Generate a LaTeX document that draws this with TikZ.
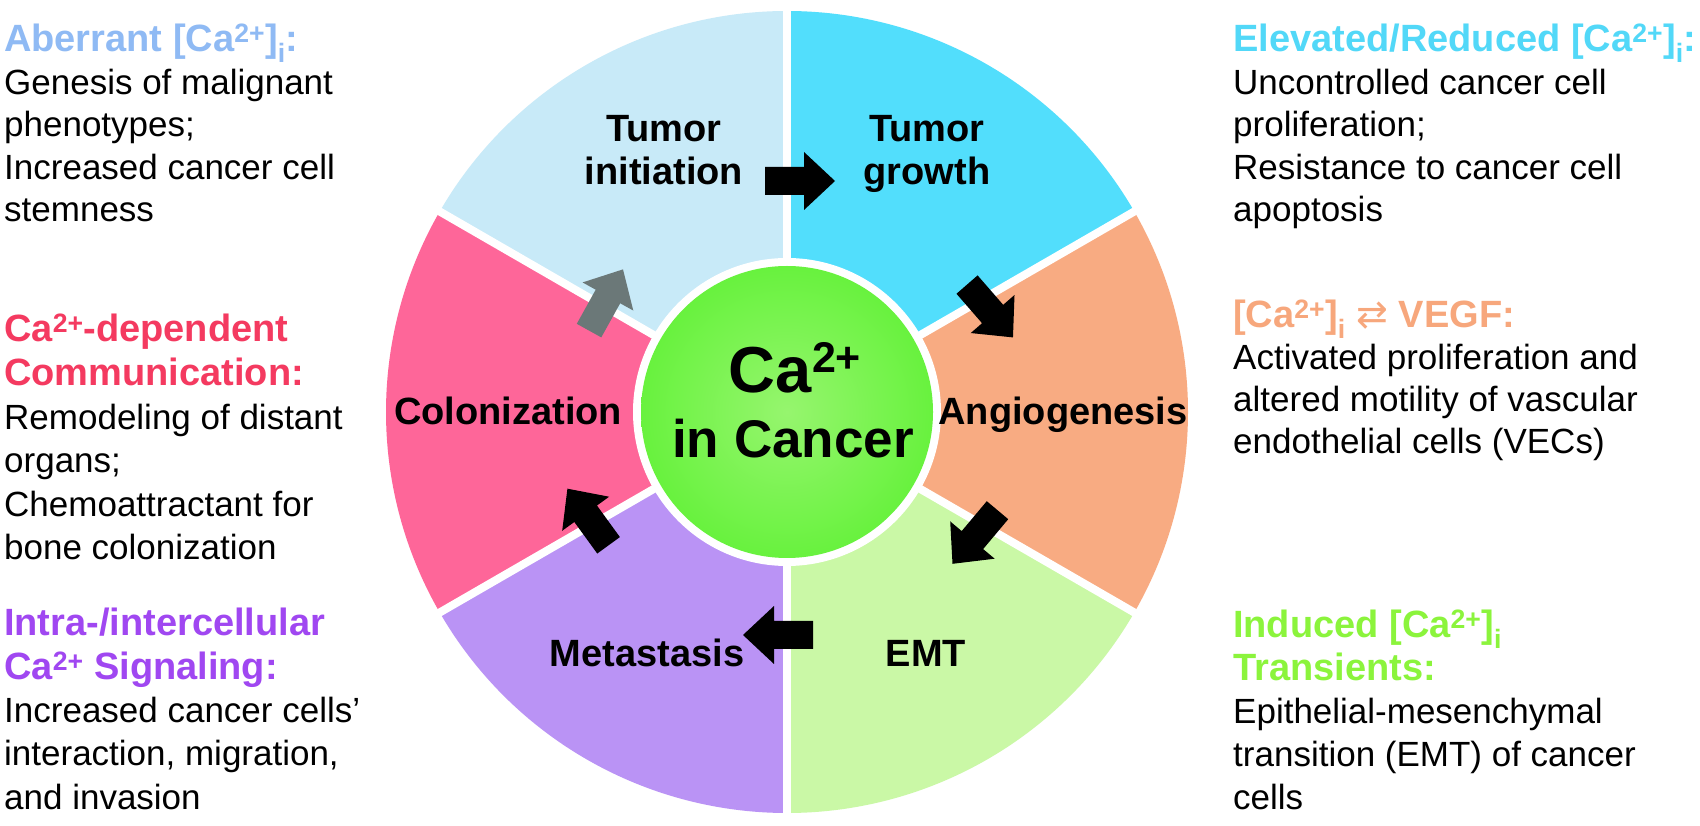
\documentclass[tikz,border=0pt]{standalone}
\usepackage{fontspec}
\setmainfont{Liberation Sans}
\newfontfamily\dejavu{DejaVu Sans}
\definecolor{cInit}{HTML}{C8EAF8}
\definecolor{cGrowth}{HTML}{52DEFC}
\definecolor{cAngio}{HTML}{F8AB82}
\definecolor{cEMT}{HTML}{CAF8A6}
\definecolor{cMeta}{HTML}{BA93F5}
\definecolor{cColon}{HTML}{FE6699}
\definecolor{hA}{HTML}{8FBAF4}
\definecolor{hB}{HTML}{F43A60}
\definecolor{hC}{HTML}{A047F1}
\definecolor{hD}{HTML}{52D8F8}
\definecolor{hE}{HTML}{F7A77C}
\definecolor{hF}{HTML}{8BF43C}
\definecolor{garrow}{HTML}{6B7878}
\definecolor{gIn}{HTML}{96F56E}
\definecolor{gOut}{HTML}{68F23E}
\newcommand\tblock[2]{\vtop{\baselineskip=#1pt\lineskiplimit=-1000pt\lineskip=0pt\halign{##\hfil\cr #2\crcr}}}
\newcommand\cblock[2]{\vtop{\baselineskip=#1pt\lineskiplimit=-1000pt\lineskip=0pt\halign{\hfil##\hfil\cr #2\crcr}}}
\newcommand\hd[1]{\bfseries\fontsize{38}{43}\selectfont\color{#1}}
\tikzset{
  blockarrow/.pic={\path[pic actions] (-35,-14) -- (4,-14) -- (4,-29) -- (35,0) -- (4,29) -- (4,14) -- (-35,14) -- cycle;},
  lab/.style={anchor=base, inner sep=0pt, font=\bfseries\fontsize{38}{43}\selectfont},
  txt/.style={anchor=base west, inner sep=0pt, font=\fontsize{35}{42}\selectfont},
  divider/.style={white, line width=8pt}
}
\begin{document}
\begin{tikzpicture}[x=1pt,y=1pt]
\useasboundingbox (0,0) rectangle (1700,825);
\fill[white] (0,0) rectangle (1700,825);
\coordinate (C) at (787,413);
% sectors
\foreach \a/\b/\col in {90/150/cInit, 30/90/cGrowth, -30/30/cAngio, -90/-30/cEMT, -150/-90/cMeta, 150/210/cColon}
  \fill[\col] (C) -- ++(\a:401) arc[start angle=\a, end angle=\b, radius=401] -- cycle;
\foreach \a in {30,90,150,210,270,330}
  \draw[divider] (C) -- ++(\a:402);
% centre
\fill[white] (C) circle (154);
\shade[inner color=gIn, outer color=gOut] (C) circle (146);
\node[anchor=base, inner sep=0pt, font=\bfseries\fontsize{65}{65}\selectfont] (ca) at (795,432) {Ca\raisebox{20pt}{\fontsize{43}{43}\selectfont 2+}};
\node[anchor=base, inner sep=0pt, font=\bfseries\fontsize{53}{53}\selectfont] (incancer) at (793,367) {in Cancer};
% sector labels
\node[lab] (init) at (664,683) {\cblock{43}{Tumor\cr initiation}};
\node[lab] (growth) at (927,683) {\cblock{43}{Tumor\cr growth}};
\node[lab] (colon) at (508,400) {Colonization};
\node[lab] (angio) at (1063,400) {Angiogenesis};
\node[lab] (meta) at (647,158) {Metastasis};
\node[lab] (emt) at (926,158) {EMT};
% block arrows
\pic[fill=black, rotate=0] (ar1) at (800,644) {blockarrow};
\pic[fill=black, rotate=-49] (ar2) at (990,514) {blockarrow};
\pic[fill=black, rotate=230] (ar3) at (975,288) {blockarrow};
\pic[fill=black, rotate=180] (ar4) at (778,190) {blockarrow};
\pic[fill=black, rotate=126] (ar5) at (588,308) {blockarrow};
\pic[fill=garrow, rotate=61] (ar6) at (606,525) {blockarrow};
% left texts
\node[txt] (tA) at (4,773) {\tblock{42.5}{\hd{hA}Aberrant [Ca\textsuperscript{2+}]\textsubscript{i}:\cr Genesis of malignant\cr phenotypes;\cr Increased cancer cell\cr stemness}};
\node[txt] (tB) at (4,483) {\tblock{43.6}{\hd{hB}Ca\textsuperscript{2+}-dependent\cr \hd{hB}Communication:\cr Remodeling of distant\cr organs;\cr Chemoattractant for\cr bone colonization}};
\node[txt] (tC) at (4,189) {\tblock{43.3}{\hd{hC}Intra-/intercellular\cr \hd{hC}Ca\textsuperscript{2+} Signaling:\cr Increased cancer cells’\cr interaction, migration,\cr and invasion}};
% right texts
\node[txt] (tD) at (1233,773) {\tblock{42.5}{\hd{hD}Elevated/Reduced [Ca\textsuperscript{2+}]\textsubscript{i}:\cr Uncontrolled cancer cell\cr proliferation;\cr Resistance to cancer cell\cr apoptosis}};
\node[txt] (tE) at (1233,497) {\tblock{42}{\hd{hE}[Ca\textsuperscript{2+}]\textsubscript{i}~{\dejavu\mdseries ⇄} VEGF:\cr Activated proliferation and\cr altered motility of vascular\cr endothelial cells (VECs)}};
\node[txt] (tF) at (1233,187) {\tblock{43}{\hd{hF}Induced [Ca\textsuperscript{2+}]\textsubscript{i}\cr \hd{hF}Transients:\cr Epithelial-mesenchymal\cr transition (EMT) of cancer\cr cells}};
\end{tikzpicture}
\end{document}
